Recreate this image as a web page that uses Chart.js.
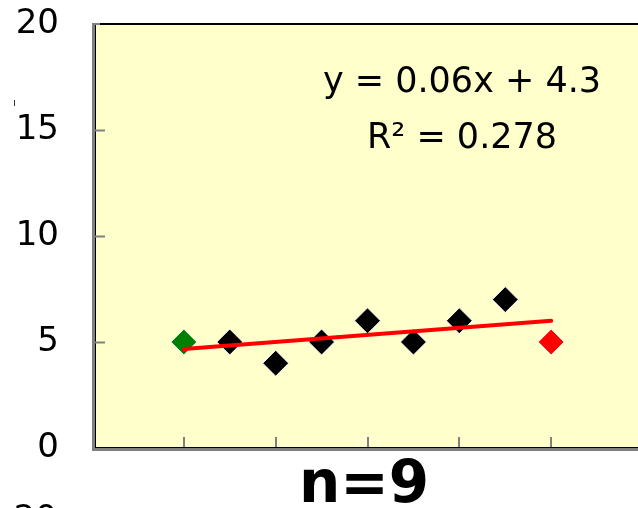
<!DOCTYPE html>
<html>
<head>
<meta charset="utf-8">
<script src="https://cdn.jsdelivr.net/npm/chart.js@4/dist/chart.umd.min.js"></script>
<style>
  html, body { margin: 0; padding: 0; background: #fff; overflow: hidden; }
  #wrap { position: relative; width: 638px; height: 508px; overflow: hidden; }
  #c { position: absolute; left: 0; top: 0; }
</style>
</head>
<body>
<div id="wrap"><canvas id="c" width="660" height="508"></canvas></div>
<script>
// Measurements: day of observation and count
const days = [6, 9, 12, 15, 18, 21, 24, 27, 30];
const counts = [5, 5, 4, 5, 6, 5, 6, 7, 5];
const pointColors = ['#008000', '#000000', '#000000', '#000000', '#000000', '#000000', '#000000', '#000000', '#ff0000'];
const yTicks = [0, 5, 10, 15, 20];
const xTickMarks = [6, 12, 18, 24, 30];
const equationText = 'y = 0.06x + 4.3';
const r2Text = 'R\u00B2 = 0.278';
const titleText = 'n=9';

// Least-squares fit for the trend line
function fitLine(xs, ys) {
  const n = xs.length;
  const mx = xs.reduce((a, b) => a + b, 0) / n;
  const my = ys.reduce((a, b) => a + b, 0) / n;
  let sxy = 0, sxx = 0;
  for (let i = 0; i < n; i++) { sxy += (xs[i] - mx) * (ys[i] - my); sxx += (xs[i] - mx) ** 2; }
  const slope = sxy / sxx;
  return { slope, intercept: my - slope * mx };
}
const fit = fitLine(days, counts);
const x0 = days[0], x1 = days[days.length - 1];
const trend = [{ x: x0, y: fit.intercept + fit.slope * x0 }, { x: x1, y: fit.intercept + fit.slope * x1 }];

const FONT = '"DejaVu Sans", Verdana, sans-serif';

const framePlugin = {
  id: 'frame',
  beforeDatasetsDraw(chart) {
    const { ctx, chartArea: a, scales } = chart;
    ctx.save();
    ctx.fillStyle = '#ffffcc';
    ctx.fillRect(a.left, a.top, a.right - a.left, a.bottom - a.top);
    // shaded left and bottom edges
    ctx.fillStyle = '#808080';
    ctx.fillRect(a.left, a.top - 1, 3, a.bottom - a.top + 4);
    ctx.fillRect(a.left, a.bottom, a.right - a.left + 10, 3);
    // dark inner edges
    ctx.fillStyle = '#000000';
    ctx.fillRect(a.left + 3, a.top, 1, a.bottom - a.top);
    ctx.fillRect(a.left + 3, a.bottom - 1, a.right - a.left + 10, 1);
    ctx.fillRect(a.left + 8, a.top - 1, a.right - a.left + 10, 2);
    ctx.fillStyle = '#808080';
    ctx.fillRect(a.left, a.top - 1, 8, 2);
    // inward tick marks
    ctx.strokeStyle = '#808080';
    ctx.lineWidth = 2;
    ctx.beginPath();
    for (const v of yTicks.slice(1, -1)) {
      const y = Math.round(scales.y.getPixelForValue(v)) + 0.5;
      ctx.moveTo(a.left + 3, y); ctx.lineTo(a.left + 13, y);
    }
    for (const v of xTickMarks) {
      const x = Math.round(scales.x.getPixelForValue(v));
      ctx.moveTo(x, a.bottom - 1); ctx.lineTo(x, a.bottom - 11);
    }
    ctx.stroke();
    ctx.restore();
  },
  afterDraw(chart) {
    const { ctx } = chart;
    ctx.save();
    ctx.fillStyle = '#000';
    ctx.textAlign = 'center';
    ctx.textBaseline = 'middle';
    ctx.font = '35px ' + FONT;
    ctx.fillText(equationText, 462, 83);
    ctx.fillText(r2Text, 462, 139);
    ctx.font = 'bold 58px ' + FONT;
    ctx.textBaseline = 'alphabetic';
    ctx.fillText(titleText, 364, 502);
    // top label of the panel below
    ctx.font = '34px ' + FONT;
    ctx.textAlign = 'right';
    ctx.fillText('20', 57, 529);
    ctx.fillStyle = '#333';
    ctx.fillRect(14, 100, 1, 6);
    ctx.restore();
  }
};

new Chart(document.getElementById('c'), {
  type: 'scatter',
  data: {
    datasets: [
      {
        type: 'line',
        data: trend,
        borderColor: '#ff0000',
        borderWidth: 4,
        borderCapStyle: 'round',
        pointRadius: 0,
        fill: false,
        order: 0
      },
      {
        data: days.map((d, i) => ({ x: d, y: counts[i] })),
        pointStyle: 'rectRot',
        pointRadius: 13,
        pointBackgroundColor: pointColors,
        pointBorderColor: '#ffffff',
        pointBorderWidth: 1,
        order: 1
      }
    ]
  },
  options: {
    responsive: false,
    animation: false,
    layout: { padding: { top: 0, right: 17, bottom: 0, left: 0 } },
    plugins: { legend: { display: false }, tooltip: { enabled: false } },
    scales: {
      x: {
        type: 'linear', min: 0, max: 36,
        grid: { display: false, drawTicks: false }, border: { display: false },
        ticks: { display: false },
        afterFit(s) { s.height = 60; }
      },
      y: {
        min: 0, max: 20,
        grid: { display: false, drawTicks: false }, border: { display: false },
        afterBuildTicks(s) { s.ticks = yTicks.map(v => ({ value: v })); },
        ticks: { color: '#000', padding: 33, font: { family: FONT, size: 34 } },
        afterFit(s) { s.width = 92; s.paddingTop = 24; }
      }
    }
  },
  plugins: [framePlugin]
});
</script>
</body>
</html>
